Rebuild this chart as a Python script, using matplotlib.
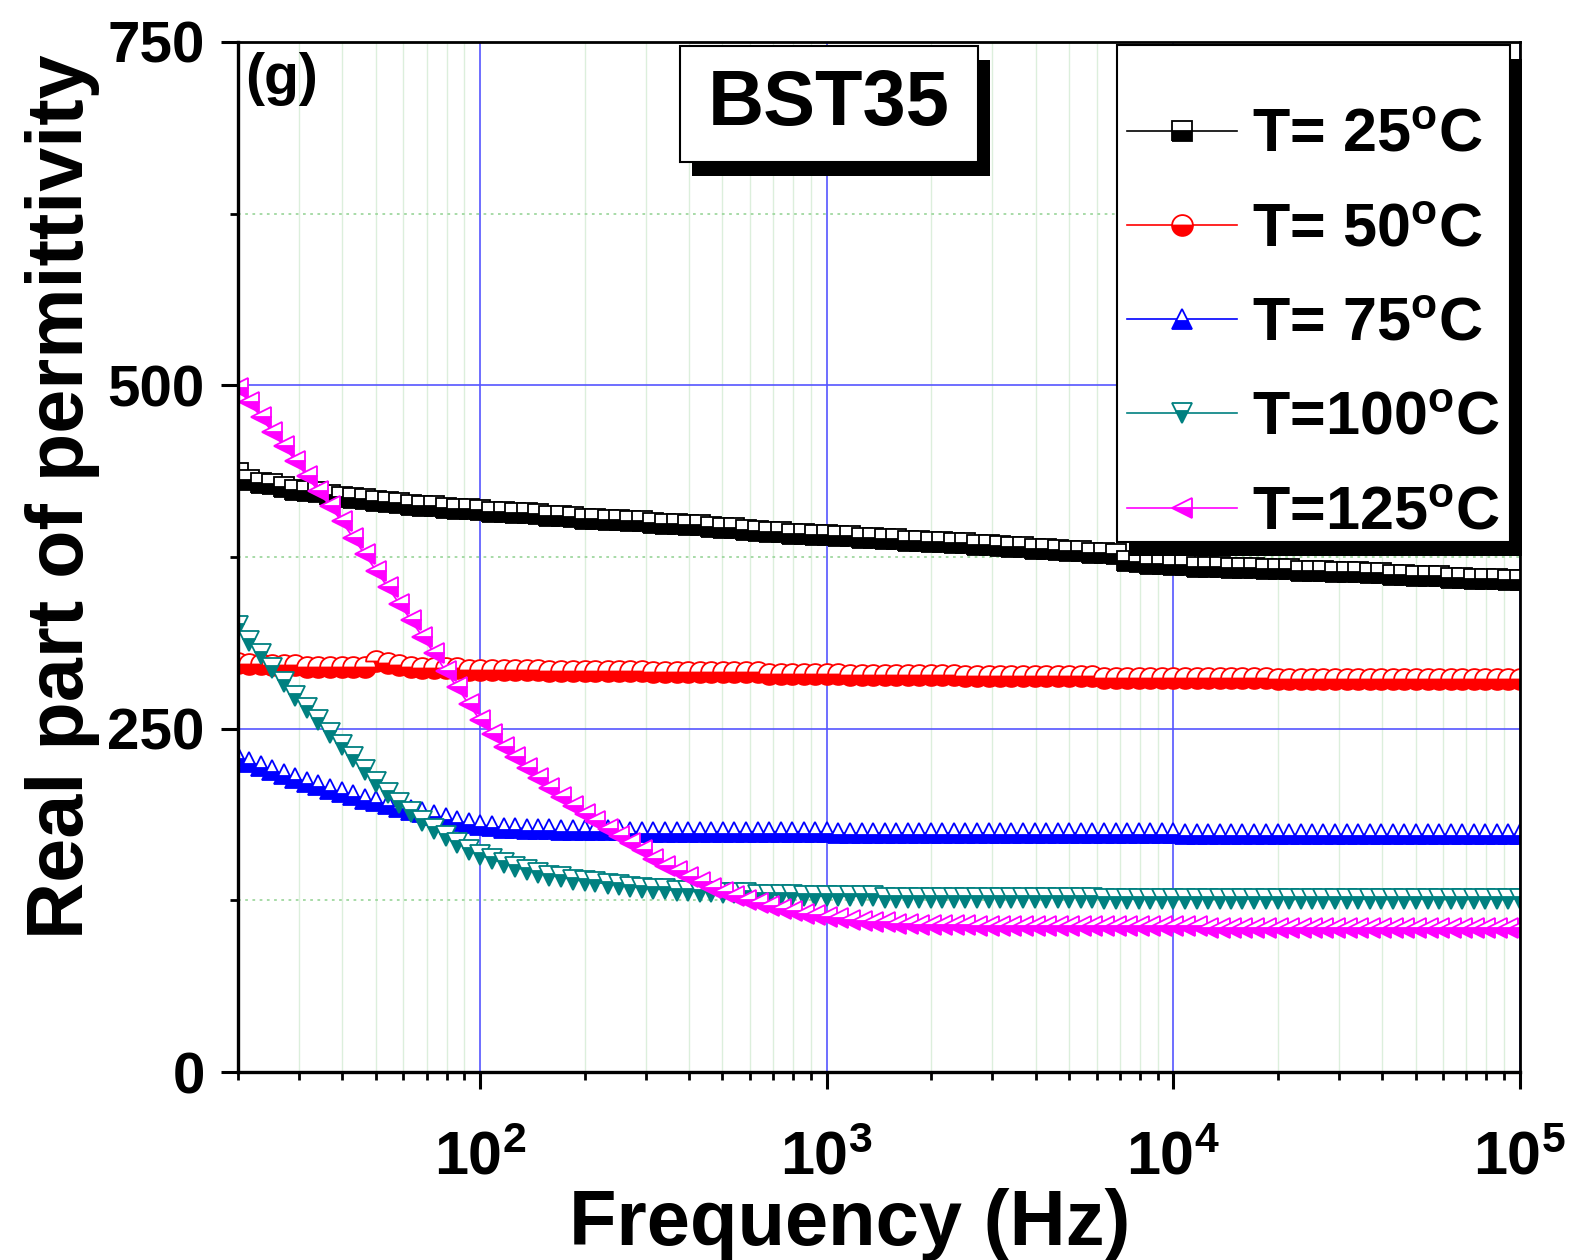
"""
BST35 介电常数实部 - 频率曲线 (不同温度)
"""

import matplotlib
matplotlib.use('Agg')
import matplotlib.pyplot as plt
from matplotlib import font_manager
from matplotlib.patches import Rectangle
from matplotlib.ticker import LogLocator, FixedLocator, NullFormatter, LogFormatterSciNotation

# ========== 字体配置 ==========
FONT_NAMES = {f.name for f in font_manager.fontManager.ttflist}
HAS_NARROW = 'Liberation Sans Narrow' in FONT_NAMES
MATH_FONT = 'Liberation Sans Narrow' if HAS_NARROW else 'Liberation Sans'

matplotlib.rcParams['font.family'] = ['Liberation Sans', 'DejaVu Sans']
matplotlib.rcParams['font.weight'] = 'bold'
matplotlib.rcParams['mathtext.fontset'] = 'custom'
matplotlib.rcParams['mathtext.rm'] = MATH_FONT + ':bold'
matplotlib.rcParams['mathtext.it'] = MATH_FONT + ':bold'
matplotlib.rcParams['mathtext.bf'] = MATH_FONT + ':bold'
matplotlib.rcParams['mathtext.default'] = 'rm'

# ========== 数据 (Hz, 介电常数实部) ==========
FREQ = [20, 21.5, 23.3, 25.1, 27.1, 29.3, 31.6, 34.1, 36.9, 39.8,
        43.0, 46.4, 50.1, 54.1, 58.4, 63.1, 68.1, 73.6, 79.4, 85.8, 92.6,
        100, 108, 117, 126, 136, 147, 158, 171, 185, 200,
        215, 233, 251, 271, 293, 316, 341, 369, 398, 430,
        464, 501, 541, 584, 631, 681, 736, 794, 858, 926,
        1000, 1080, 1170, 1260, 1360, 1470, 1580, 1710, 1850, 2000,
        2150, 2330, 2510, 2710, 2930, 3160, 3410, 3690, 3980, 4300,
        4640, 5010, 5410, 5840, 6310, 6810, 7360, 7940, 8580, 9260,
        10000, 10800, 11700, 12600, 13600, 14700, 15800, 17100, 18500, 20000,
        21500, 23300, 25100, 27100, 29300, 31600, 34100, 36900, 39800, 43000,
        46400, 50100, 54100, 58400, 63100, 68100, 73600, 79400, 85800, 92600,
        100000]

EPS_25C = [436, 431, 429, 428, 426, 424, 423, 422, 420, 419,
           418, 417, 416, 415, 414, 413, 412, 412, 411, 410,
           410, 409, 408, 408, 407, 407, 406, 405, 405, 404,
           403, 403, 402, 402, 401, 401, 400, 399, 399, 398,
           398, 397, 396, 396, 395, 394, 393, 393, 392, 392,
           391, 391, 390, 390, 389, 389, 388, 388, 387, 387,
           386, 386, 385, 385, 384, 384, 383, 382, 382, 381,
           381, 380, 379, 379, 378, 378, 377, 372, 371, 370,
           370, 369, 369, 368, 368, 368, 367, 367, 367, 366,
           366, 366, 365, 365, 365, 364, 364, 364, 363, 363,
           362, 362, 361, 361, 361, 360, 360, 359, 359, 359,
           358, 358]

EPS_50C = [298, 297, 297, 296, 296, 296, 295, 295, 295, 295,
           295, 295, 299, 298, 296, 295, 294, 294, 294, 294,
           293, 293, 293, 293, 293, 293, 293, 292, 292, 292,
           292, 292, 292, 292, 292, 292, 291, 291, 291, 291,
           291, 291, 291, 291, 291, 291, 290, 290, 290, 290,
           290, 290, 290, 289, 289, 289, 289, 289, 289, 289,
           289, 289, 289, 288, 288, 288, 288, 288, 288, 288,
           288, 288, 288, 288, 288, 287, 287, 287, 287, 287,
           287, 287, 287, 287, 287, 287, 287, 287, 287, 287,
           286, 286, 286, 286, 286, 286, 286, 286, 286, 286,
           286, 286, 286, 286, 286, 286, 286, 286, 286, 286,
           286, 286]

EPS_75C = [229, 226, 223, 220, 217, 214, 211, 209, 206, 204,
           202, 199, 197, 195, 193, 191, 189, 187, 185, 183,
           181, 180, 179, 178, 178, 177, 177, 177, 176, 176,
           176, 176, 176, 176, 175, 175, 175, 175, 175, 175,
           175, 175, 175, 175, 175, 175, 175, 175, 175, 175,
           175, 175, 174, 174, 174, 174, 174, 174, 174, 174,
           174, 174, 174, 174, 174, 174, 174, 174, 174, 174,
           174, 174, 174, 174, 174, 174, 174, 174, 174, 174,
           174, 174, 173, 173, 173, 173, 173, 173, 173, 173,
           173, 173, 173, 173, 173, 173, 173, 173, 173, 173,
           173, 173, 173, 173, 173, 173, 173, 173, 173, 173,
           173, 173]

EPS_100C = [325, 314, 304, 294, 284, 274, 265, 256, 247, 238,
            229, 220, 211, 203, 196, 189, 183, 177, 172, 167,
            162, 158, 155, 152, 149, 147, 145, 143, 142, 140,
            139, 138, 137, 136, 135, 134, 133, 133, 132, 132,
            131, 131, 130, 130, 130, 129, 129, 129, 129, 128,
            128, 128, 128, 128, 128, 128, 127, 127, 127, 127,
            127, 127, 127, 127, 127, 127, 127, 127, 127, 127,
            127, 127, 127, 127, 127, 126, 126, 126, 126, 126,
            126, 126, 126, 126, 126, 126, 126, 126, 126, 126,
            126, 126, 126, 126, 126, 126, 126, 126, 126, 126,
            126, 126, 126, 126, 126, 126, 126, 126, 126, 126,
            126, 126]

EPS_125C = [498, 488, 477, 466, 456, 445, 434, 423, 412, 401,
            389, 377, 365, 353, 341, 329, 317, 305, 292, 280,
            268, 256, 246, 237, 229, 221, 214, 207, 200, 194,
            188, 183, 177, 172, 167, 162, 155, 150, 146, 142,
            138, 134, 131, 128, 125, 123, 121, 119, 117, 115,
            114, 113, 112, 111, 110, 109, 109, 108, 108, 107,
            107, 107, 107, 107, 106, 106, 106, 106, 106, 106,
            106, 106, 106, 106, 106, 106, 106, 106, 106, 106,
            106, 106, 106, 106, 105, 105, 105, 105, 105, 105,
            105, 105, 105, 105, 105, 105, 105, 105, 105, 105,
            105, 105, 105, 105, 105, 105, 105, 105, 105, 105,
            105, 105]

LABELS = [r'T= 25$^{\mathrm{o}}$C', r'T= 50$^{\mathrm{o}}$C', r'T= 75$^{\mathrm{o}}$C',
          r'T=100$^{\mathrm{o}}$C', r'T=125$^{\mathrm{o}}$C']
COLORS = ['#000000', '#ff0000', '#0000ff', '#008080', '#ff00ff']
MARKERS = ['s', 'o', '^', 'v', '<']

Y_MAJOR = [0, 250, 500, 750]
Y_MINOR = [125, 375, 625]


def add_shadow(ax, bb, dx=12, dy=14, z=4.9):
    """在显示坐标框 bb 的右下方画黑色阴影"""
    inv = ax.transAxes.inverted()
    (x0, y0), (x1, y1) = inv.transform([[bb.x0 + dx, bb.y0 - dy], [bb.x1 + dx, bb.y1 - dy]])
    ax.add_patch(Rectangle((x0, y0), x1 - x0, y1 - y0, transform=ax.transAxes,
                           facecolor='black', edgecolor='none', zorder=z, clip_on=False))


def main():
    fig = plt.figure(figsize=(15.74, 12.6), dpi=100)
    ax = fig.add_axes([0.1512, 0.1492, 0.8145, 0.8175])

    series = [EPS_25C, EPS_50C, EPS_75C, EPS_100C, EPS_125C]
    for vals, color, marker, label in zip(series, COLORS, MARKERS, LABELS):
        ax.plot(FREQ, vals, color=color, lw=1.2, marker=marker, ms=15,
                fillstyle='bottom', markerfacecolor=color, markerfacecoloralt='white',
                markeredgecolor=color, markeredgewidth=1.3, label=label)

    ax.set_xscale('log')
    ax.set_xlim(20, 1e5)
    ax.set_ylim(0, 750)

    ax.xaxis.set_major_locator(LogLocator(base=10, numticks=10))
    ax.xaxis.set_major_formatter(LogFormatterSciNotation())
    ax.xaxis.set_minor_locator(LogLocator(base=10, subs=[2, 3, 4, 5, 6, 7, 8, 9], numticks=20))
    ax.xaxis.set_minor_formatter(NullFormatter())
    ax.yaxis.set_major_locator(FixedLocator(Y_MAJOR))
    ax.yaxis.set_minor_locator(FixedLocator(Y_MINOR))

    # 网格
    ax.set_axisbelow(True)
    ax.grid(which='major', color='#5555ff', lw=1.2)
    ax.xaxis.grid(True, which='minor', color='#dcefdc', lw=1.0)
    ax.yaxis.grid(True, which='minor', color='#a0d8a0', lw=1.3, linestyle=(0, (1.5, 2.5)))

    ax.tick_params(which='major', direction='out', length=12, width=2.2, top=False, right=False)
    ax.tick_params(which='minor', direction='out', length=6, width=2.0, top=False, right=False)
    ax.tick_params(axis='y', labelsize=42, pad=12)
    ax.tick_params(axis='x', labelsize=50 if HAS_NARROW else 44, pad=30)
    for s in ['left', 'bottom']:
        ax.spines[s].set_linewidth(2.4)
    for s in ['top', 'right']:
        ax.spines[s].set_linewidth(2.0)

    ax.set_xlabel('Frequency (Hz)', fontsize=56, fontweight='bold', va='top')
    ax.xaxis.set_label_coords(0.477, -0.113)
    ax.set_ylabel('Real part of permittivity', fontsize=57, fontweight='bold')
    ax.yaxis.set_label_coords(-0.108, 0.559)

    ax.text(0.0055, 0.99, '(g)', transform=ax.transAxes, fontsize=41,
            fontweight='bold', ha='left', va='top', zorder=7)

    # BST35 标注框
    box = Rectangle((0.3448, 0.8835), 0.2324, 0.1126, transform=ax.transAxes,
                    facecolor='white', edgecolor='black', lw=1.5, zorder=6, clip_on=False)
    ax.add_patch(box)
    ax.text(0.461, 0.939, 'BST35', transform=ax.transAxes, fontsize=56,
            fontweight='bold', ha='center', va='center', zorder=7)

    # 图例框 (手动边框 + 阴影)
    leg_box = Rectangle((0.6856, 0.5146), 0.3066, 0.4824, transform=ax.transAxes,
                        facecolor='white', edgecolor='black', lw=1.5, zorder=5, clip_on=False)
    ax.add_patch(leg_box)
    leg = ax.legend(loc='upper right', bbox_to_anchor=(0.9844, 0.9359), borderaxespad=0,
                    fontsize=44, frameon=False, handlelength=1.8, handletextpad=0.25,
                    labelspacing=0.61, borderpad=0, markerscale=1.0)
    leg.set_zorder(6)

    fig.canvas.draw()
    renderer = fig.canvas.get_renderer()
    add_shadow(ax, leg_box.get_window_extent(renderer), z=4.9)
    add_shadow(ax, box.get_window_extent(renderer), z=5.5)

    fig.savefig('out.png', dpi=100)
    plt.close(fig)


if __name__ == '__main__':
    main()
